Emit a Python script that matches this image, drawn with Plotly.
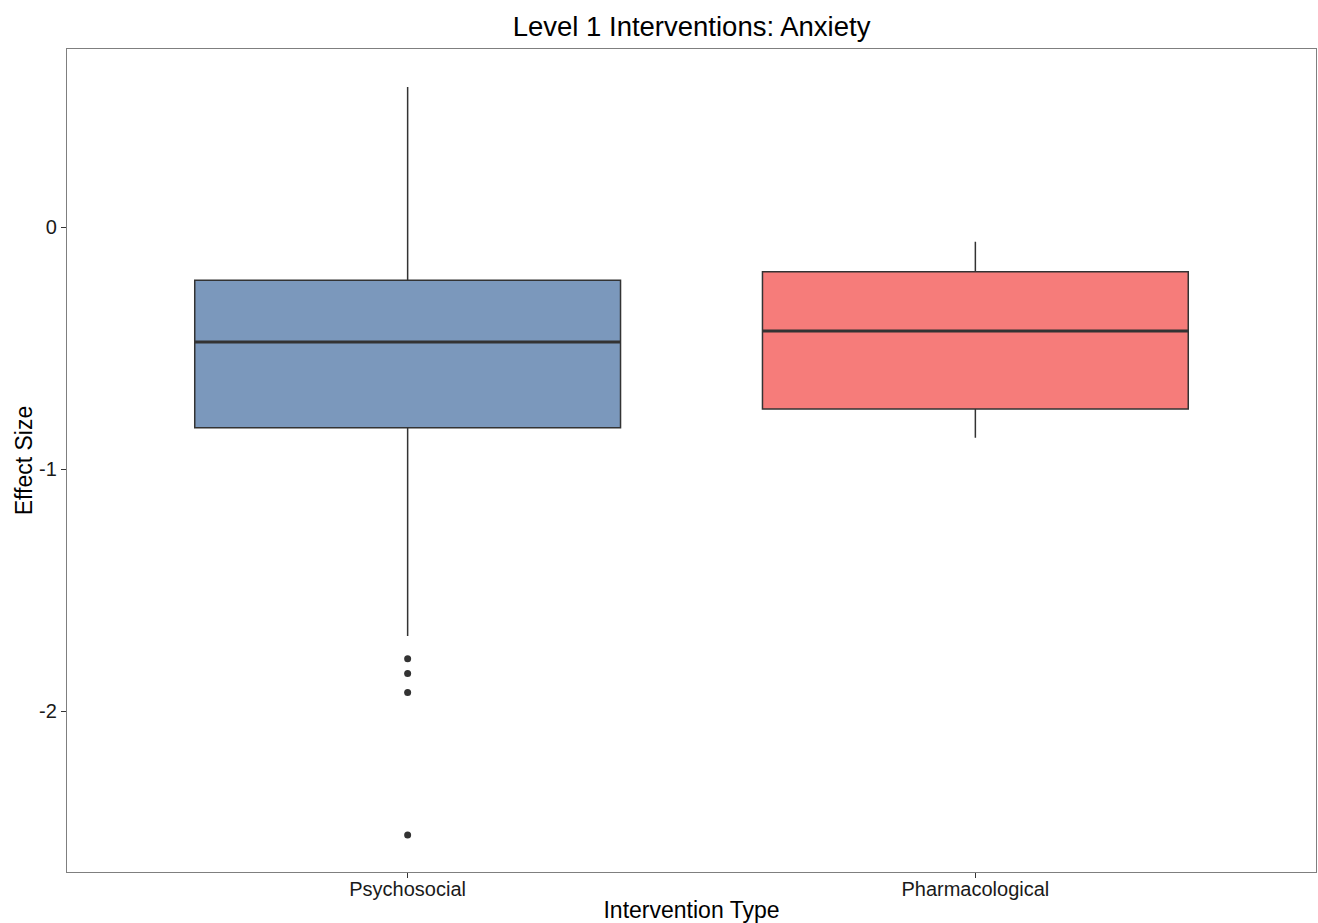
import plotly.graph_objects as go

# Box statistics per intervention type (effect sizes)
categories = ["Psychosocial", "Pharmacological"]
positions = [1, 2]
upper_whisker = [0.578, -0.061]
q3_values = [-0.220, -0.185]
median_values = [-0.475, -0.430]
q1_values = [-0.829, -0.752]
lower_whisker = [-1.690, -0.871]
fill_colors = ["#7B98BC", "#F67C7A"]

# Outlying studies (Psychosocial only)
outlier_group = [1, 1, 1, 1]
outlier_values = [-1.784, -1.845, -1.923, -2.512]

box_width = 0.75
line_color = "#333333"
font_family = "Liberation Sans, Arial, sans-serif"

fig = go.Figure()

for i, name in enumerate(categories):
    fig.add_trace(go.Box(
        x=[positions[i]],
        q1=[q1_values[i]],
        median=[median_values[i]],
        q3=[q3_values[i]],
        lowerfence=[lower_whisker[i]],
        upperfence=[upper_whisker[i]],
        name=name,
        width=box_width,
        whiskerwidth=0,
        fillcolor=fill_colors[i],
        line=dict(color=line_color, width=1.5),
        boxpoints=False,
        hoverinfo="skip",
        showlegend=False,
    ))
    # heavier median bar, as in ggplot2 boxplots
    fig.add_trace(go.Scatter(
        x=[positions[i] - box_width / 2, positions[i] + box_width / 2],
        y=[median_values[i], median_values[i]],
        mode="lines",
        line=dict(color=line_color, width=3),
        hoverinfo="skip",
        showlegend=False,
    ))

fig.add_trace(go.Scatter(
    x=outlier_group,
    y=outlier_values,
    mode="markers",
    marker=dict(color=line_color, size=7),
    hoverinfo="skip",
    showlegend=False,
))

axis_common = dict(
    showgrid=False,
    zeroline=False,
    showline=True,
    linecolor="#7F7F7F",
    linewidth=1.2,
    mirror=True,
    ticks="outside",
    ticklen=5,
    tickcolor="#333333",
    tickfont=dict(family=font_family, size=20, color="#1a1a1a"),
    automargin=False,
)

fig.update_layout(
    width=1318,
    height=923,
    margin=dict(l=67, r=2, t=49, b=51),
    paper_bgcolor="white",
    plot_bgcolor="white",
    title=dict(
        text="Level 1 Interventions: Anxiety",
        x=0.5247, xanchor="center",
        y=0.971, yanchor="middle",
        font=dict(family=font_family, size=27.5, color="black"),
    ),
    xaxis=dict(
        range=[0.4, 2.6],
        tickvals=positions,
        ticktext=categories,
        ticklabelstandoff=-6,
        title=dict(text="Intervention Type", standoff=10,
                   font=dict(family=font_family, size=23, color="black")),
        **axis_common,
    ),
    yaxis=dict(
        range=[-2.665, 0.7355],
        tickvals=[0, -1, -2],
        ticktext=["0", "-1", "-2"],
        title=dict(text="Effect Size", standoff=0,
                   font=dict(family=font_family, size=23, color="black")),
        **axis_common,
    ),
)

fig.write_html("out.html")
